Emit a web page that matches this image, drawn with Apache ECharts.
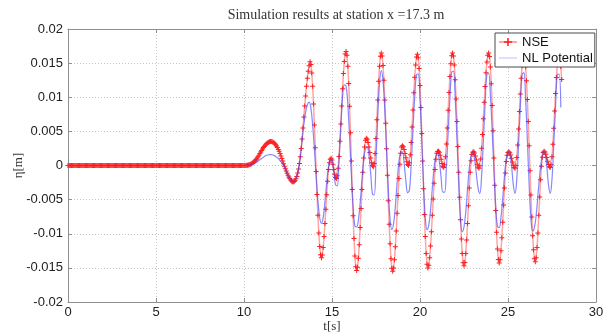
<!DOCTYPE html>
<html><head><meta charset="utf-8">
<script src="https://cdn.jsdelivr.net/npm/echarts@6/dist/echarts.min.js"></script>
<style>html,body{margin:0;padding:0;background:#fff}#c{width:608px;height:334px}</style>
</head><body><div id="c"></div>
<script>
const chartTitle = 'Simulation results at station x =17.3 m';
const xName = 't[s]';
const yName = 'η[m]';
const xTicks = [0, 5, 10, 15, 20, 25, 30];
const yTicks = [-0.02, -0.015, -0.01, -0.005, 0, 0.005, 0.01, 0.015, 0.02];
const seriesNames = ['NSE', 'NL Potential'];

const nseStart = 0, nseStep = 0.05;
const nseMm = [
 0,0,0,0,0,0,0,0,0,0,0,0,0,0,0,0,0,0,0,0,
 0,0,0,0,0,0,0,0,0,0,0,0,0,0,0,0,0,0,0,0,
 0,0,0,0,0,0,0,0,0,0,0,0,0,0,0,0,0,0,0,0,
 0,0,0,0,0,0,0,0,0,0,0,0,0,0,0,0,0,0,0,0,
 0,0,0,0,0,0,0,0,0,0,0,0,0,0,0,0,0,0,0,0,
 0,0,0,0,0,0,0,0,0,0,0,0,0,0,0,0,0,0,0,0,
 0,0,0,0,0,0,0,0,0,0,0,0,0,0,0,0,0,0,0,0,
 0,0,0,0,0,0,0,0,0,0,0,0,0,0,0,0,0,0,0,0,
 0,0,0,0,0,0,0,0,0,0,0,0,0,0,0,0,0,0,0,0,
 0,0,0,0,0,0,0,0,0,0,0,0,0,0,0,0,0,0,0,0,
 /* 10.0 */ 0, 0, 0, 0.02, 0.04, 0.07, 0.11, 0.16, 0.23, 0.31,
 /* 10.5 */ 0.4, 0.5, 0.62, 0.76, 0.92, 1.1, 1.3, 1.52, 1.75, 1.98,
 /* 11.0 */ 2.2, 2.42, 2.62, 2.8, 2.97, 3.12, 3.24, 3.34, 3.42, 3.47,
 /* 11.5 */ 3.5, 3.5, 3.48, 3.42, 3.33, 3.2, 3.04, 2.85, 2.62, 2.36,
 /* 12.0 */ 2.07, 1.75, 1.4, 1.03, 0.65, 0.27, -0.1, -0.46, -0.8, -1.12,
 /* 12.5 */ -1.42, -1.68, -1.92, -2.12, -2.27, -2.37, -2.4, -2.35, -2.2, -1.95,
 /* 13.0 */ -1.6, -1.1, -0.5, 0.3, 1.3, 2.5, 3.9, 5.5, 7.1, 8.7,
 /* 13.5 */ 10.2, 11.6, 12.8, 13.8, 14.6, 15.2, 14.8, 13.55, 11.6, 9.0,
 /* 14.0 */ 5.94, 2.59, -0.89, -4.24, -7.3, -9.9, -11.85, -13.08, -13.5, -13.1,
 /* 14.5 */ -12.0, -10.4, -8.5, -6.4, -4.3, -2.3, -0.6, 0.4, 0.9, 1.05,
 /* 15.0 */ 0.8, 0.2, -0.6, -1.3, -1.75, -1.9, -1.52, -0.42, 1.31, 3.54,
 /* 15.5 */ 6.08, 8.72, 11.26, 13.49, 15.22, 16.32, 16.7, 16.15, 14.55, 12.0,
 /* 16.0 */ 8.68, 4.81, 0.65, -3.51, -7.38, -10.7, -13.25, -14.85, -15.4, -14.9,
 /* 16.5 */ -13.6, -11.6, -9.1, -6.3, -3.5, -1.0, 1.1, 2.7, 3.7, 4.0,
 /* 17.0 */ 3.84, 3.38, 2.7, 1.9, 1.1, 0.42, -0.04, -0.2, 0.3, 1.75,
 /* 17.5 */ 3.97, 6.7, 9.6, 12.33, 14.55, 16.0, 16.5, 16.04, 14.66, 12.48,
 /* 18.0 */ 9.59, 6.18, 2.44, -1.44, -5.18, -8.59, -11.48, -13.66, -15.04, -15.5,
 /* 18.5 */ -15.0, -13.8, -11.9, -9.6, -7.0, -4.4, -1.9, 0.2, 1.8, 2.7,
 /* 19.0 */ 2.9, 2.76, 2.35, 1.77, 1.13, 0.55, 0.14, 0, 0.4, 1.56,
 /* 19.5 */ 3.36, 5.63, 8.15, 10.67, 12.94, 14.74, 15.9, 16.3, 15.77, 14.2,
 /* 20.0 */ 11.71, 8.48, 4.7, 0.65, -3.4, -7.18, -10.41, -12.9, -14.47, -15.0,
 /* 20.5 */ -14.6, -13.5, -11.8, -9.7, -7.3, -4.9, -2.6, -0.6, 0.9, 1.8,
 /* 21.0 */ 2.05, 2.1, 1.94, 1.5, 0.9, 0.3, -0.14, -0.3, 0.11, 1.3,
 /* 21.5 */ 3.16, 5.5, 8.1, 10.7, 13.04, 14.9, 16.09, 16.5, 16.05, 14.71,
 /* 22.0 */ 12.58, 9.76, 6.44, 2.79, -0.99, -4.64, -7.96, -10.78, -12.91, -14.25,
 /* 22.5 */ -14.7, -14.2, -12.9, -10.9, -8.5, -5.9, -3.3, -1.0, 0.7, 1.6,
 /* 23.0 */ 1.95, 2.0, 1.84, 1.4, 0.8, 0.2, -0.24, -0.4, -0.05, 0.94,
 /* 23.5 */ 2.52, 4.54, 6.85, 9.25, 11.56, 13.58, 15.16, 16.15, 16.5, 15.98,
 /* 24.0 */ 14.44, 11.99, 8.8, 5.09, 1.1, -2.89, -6.6, -9.79, -12.24, -13.78,
 /* 24.5 */ -14.3, -13.8, -12.5, -10.6, -8.3, -5.8, -3.3, -1.1, 0.6, 1.5,
 /* 25.0 */ 1.9, 2.0, 1.88, 1.55, 1.07, 0.53, 0.05, -0.28, -0.4, 0.01,
 /* 25.5 */ 1.19, 3.02, 5.34, 7.9, 10.46, 12.78, 14.61, 15.79, 16.2, 15.76,
 /* 26.0 */ 14.46, 12.4, 9.66, 6.43, 2.88, -0.78, -4.33, -7.56, -10.3, -12.36,
 /* 26.5 */ -13.66, -14.1, -13.5, -12.0, -9.9, -7.3, -4.6, -2.1, -0.1, 1.2,
 /* 27.0 */ 1.9, 2.1, 1.98, 1.65, 1.17, 0.63, 0.15, -0.18, -0.3, 0.11,
 /* 27.5 */ 1.29, 3.12, 5.44, 8.0, 10.56, 12.88, 14.71, 15.89, 16.3, 15.85,
 /* 28.0 */ 14.5, 12.6
];

const nlStart = 0, nlStep = 0.1;
const nlMm = [
 0,0,0,0,0,0,0,0,0,0,0,0,0,0,0,0,0,0,0,0,
 0,0,0,0,0,0,0,0,0,0,0,0,0,0,0,0,0,0,0,0,
 0,0,0,0,0,0,0,0,0,0,0,0,0,0,0,0,0,0,0,0,
 0,0,0,0,0,0,0,0,0,0,0,0,0,0,0,0,0,0,0,0,
 0,0,0,0,0,0,0,0,0,0,0,0,0,0,0,0,0,0,0,0,
 /* 10 */ 0, 0, 0.02, 0.05, 0.1, 0.18, 0.3, 0.45, 0.63, 0.83,
 /* 11 */ 1.03, 1.22, 1.38, 1.5, 1.57, 1.6, 1.57, 1.48, 1.33, 1.13,
 /* 12 */ 0.88, 0.55, 0.2, -0.2, -0.8, -1.42, -1.92, -2.27, -2.4, -2.2,
 /* 13 */ -1.6, -0.5, 1.3, 3.7, 6.0, 7.8, 8.9, 9.3, 8.42, 5.94,
 /* 14 */ 2.38, -1.58, -5.14, -7.62, -8.5, -7.6, -5.3, -2.5, -0.2, 0.8,
 /* 15 */ 0.8, -0.9, -2.8, -3.0, 0.8, 5.6, 10.0, 11.8, 11.64, 8.9,
 /* 16 */ 4.15, -1.35, -6.1, -8.84, -9.0, -8.0, -5.5, -2.2, 0.8, 2.4,
 /* 17 */ 2.7, 1.5, -1.2, -4.2, -4.3, 0.8, 7.2, 12.0, 13.9, 12.34,
 /* 18 */ 8.08, 2.25, -3.58, -7.84, -9.4, -8.5, -6.0, -2.5, 0.5, 1.9,
 /* 19 */ 2.0, 0.3, -2.3, -4.0, -3.6, 0.2, 5.2, 10.0, 13.3, 13.4,
 /* 20 */ 9.63, 3.74, -2.67, -7.57, -9.4, -8.7, -6.5, -3.3, -0.3, 1.4,
 /* 21 */ 1.8, 0.6, -1.8, -3.9, -3.9, -0.3, 4.8, 9.8, 13.7, 13.8,
 /* 22 */ 9.91, 3.83, -2.77, -7.82, -9.7, -9.0, -6.8, -3.5, -0.4, 1.5,
 /* 23 */ 2.0, 1.0, -1.2, -3.3, -4.1, -1.5, 3.5, 9.0, 13.3, 13.5,
 /* 24 */ 10.25, 5.12, -0.82, -5.95, -8.91, -9.1, -7.6, -4.8, -1.5, 0.9,
 /* 25 */ 1.9, 1.7, 0.0, -2.8, -4.1, -2.0, 3.0, 8.5, 13.3, 13.6,
 /* 26 */ 9.76, 3.76, -2.76, -7.74, -9.6, -9.1, -7.3, -4.4, -1.4, 0.8,
 /* 27 */ 1.9, 1.8, 0.0, -2.8, -4.1, -2.0, 3.0, 8.5, 13.3, 13.4,
 /* 28 */ 8.5
];

function toPairs(start, step, mm) {
  return mm.map((v, i) => [+(start + i * step).toFixed(3), v / 1000]);
}

const sansFont = '"Liberation Sans", Arial, sans-serif';
const serifFont = '"Liberation Serif", "Times New Roman", serif';
const plusPath = 'path://M4,0H6V4H10V6H6V10H4V6H0V4H4Z';
const thinLinePath = 'path://M0,0H40V1.2H0Z';
const boxColor = '#8f8f8f';
const nlColor = 'rgba(70,70,255,0.65)';
const gridDots = { show: true, lineStyle: { color: '#c4c4c4', type: [1, 2], width: 1 } };

const chart = echarts.init(document.getElementById('c'), null, { renderer: 'canvas' });
chart.setOption({
  animation: false,
  backgroundColor: '#ffffff',
  title: {
    text: chartTitle, left: 331, top: 3, textAlign: 'center',
    textStyle: { fontFamily: serifFont, fontSize: 14, fontWeight: 'normal', color: '#333' }
  },
  grid: { left: 68, right: 12, top: 29, bottom: 32, containLabel: false, outerBoundsMode: 'none' },
  legend: {
    data: [{ name: seriesNames[0] }, { name: seriesNames[1], icon: thinLinePath }],
    orient: 'vertical', left: 495, top: 33, z: 20,
    backgroundColor: '#ffffff', borderColor: '#4a4a4a', borderWidth: 1, borderRadius: 0,
    padding: [2, 2, 2, 3], itemGap: 2, itemWidth: 18, itemHeight: 10,
    textStyle: { fontFamily: sansFont, fontSize: 13, lineHeight: 14, color: '#111' }
  },
  xAxis: [{
    type: 'value', min: xTicks[0], max: xTicks[xTicks.length - 1], interval: xTicks[1] - xTicks[0],
    name: xName, nameLocation: 'middle', nameGap: 18, nameMoveOverlap: false,
    nameTextStyle: { fontFamily: serifFont, fontSize: 13, color: '#333' },
    axisLine: { show: true, onZero: false, lineStyle: { color: boxColor, width: 1 } },
    axisTick: { show: true, inside: true, length: 4, lineStyle: { color: boxColor } },
    axisLabel: { fontFamily: sansFont, fontSize: 13, color: '#222', margin: 4 },
    splitLine: gridDots
  }, {
    type: 'value', position: 'top', min: xTicks[0], max: xTicks[xTicks.length - 1], interval: xTicks[1] - xTicks[0],
    axisLine: { show: true, onZero: false, lineStyle: { color: boxColor, width: 1 } },
    axisTick: { show: true, inside: true, length: 4, lineStyle: { color: boxColor } },
    axisLabel: { show: false }, splitLine: { show: false }
  }],
  yAxis: [{
    type: 'value', min: yTicks[0], max: yTicks[yTicks.length - 1], interval: yTicks[1] - yTicks[0],
    name: yName, nameLocation: 'middle', nameGap: 43, nameRotate: 90, nameMoveOverlap: false,
    nameTextStyle: { fontFamily: serifFont, fontSize: 13, color: '#333' },
    axisLine: { show: true, onZero: false, lineStyle: { color: boxColor, width: 1 } },
    axisTick: { show: true, inside: true, length: 4, lineStyle: { color: boxColor } },
    axisLabel: { fontFamily: sansFont, fontSize: 13, color: '#222', margin: 5,
      formatter: v => String(+v.toFixed(3)) },
    splitLine: gridDots
  }, {
    type: 'value', position: 'right', min: yTicks[0], max: yTicks[yTicks.length - 1], interval: yTicks[1] - yTicks[0],
    axisLine: { show: true, onZero: false, lineStyle: { color: boxColor, width: 1 } },
    axisTick: { show: true, inside: true, length: 4, lineStyle: { color: boxColor } },
    axisLabel: { show: false }, splitLine: { show: false }
  }],
  series: [{
    name: seriesNames[0], type: 'line', xAxisIndex: 0, yAxisIndex: 0, z: 2,
    data: toPairs(nseStart, nseStep, nseMm),
    symbol: plusPath, symbolSize: 5, showSymbol: true,
    itemStyle: { color: '#ff2020' },
    lineStyle: { color: 'rgba(255,90,90,0.55)', width: 1.5 },
    emphasis: { disabled: true }
  }, {
    name: seriesNames[1], type: 'line', xAxisIndex: 0, yAxisIndex: 0, z: 3,
    data: toPairs(nlStart, nlStep, nlMm),
    symbol: 'none', smooth: 0.4,
    itemStyle: { color: nlColor },
    lineStyle: { color: nlColor, width: 1.2 },
    emphasis: { disabled: true }
  }]
});
</script>
</body></html>
